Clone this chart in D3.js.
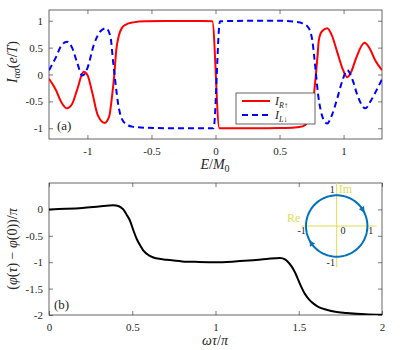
<!DOCTYPE html>
<html>
<head>
<meta charset="utf-8">
<script src="https://cdn.jsdelivr.net/npm/d3@7"></script>
<style>
  body { margin: 0; background: #fff; }
  svg { display: block; }
  text { font-family: "Liberation Serif", "Times New Roman", "DejaVu Serif", serif; fill: #262626; }
</style>
</head>
<body>
<script>
// panel (a): E/M0 and the two currents
const energy = [-1.3, -1.25, -1.2, -1.16, -1.12, -1.08, -1.03, -1.0, -0.96, -0.92, -0.865, -0.83, -0.81, -0.79, -0.775, -0.755, -0.73, -0.7, -0.64, -0.55, -0.4, -0.1, -0.025, 0.03, 0.3, 0.5, 0.62, 0.68, 0.72, 0.74, 0.76, 0.78, 0.795, 0.807, 0.83, 0.872, 0.91, 0.95, 0.99, 1.029, 1.06, 1.1, 1.164, 1.2, 1.25, 1.3]
const currentR = [-0.08, -0.27, -0.53, -0.63, -0.55, -0.28, 0.05, -0.01, -0.36, -0.75, -0.9, -0.78, -0.45, 0.0, 0.45, 0.72, 0.87, 0.93, 0.97, 0.99, 0.995, 0.995, 0.99, -1.0, -1.0, -0.995, -0.985, -0.965, -0.89, -0.79, -0.55, -0.1, 0.3, 0.64, 0.8, 0.86, 0.72, 0.42, 0.12, -0.05, 0.05, 0.32, 0.59, 0.5, 0.25, 0.08]
const energyL = [-1.3, -1.25, -1.2, -1.159, -1.12, -1.08, -1.04, -1.0, -0.95, -0.9, -0.854, -0.82, -0.8, -0.78, -0.76, -0.74, -0.7, -0.65, -0.55, -0.3, -0.015, 0.035, 0.3, 0.5, 0.62, 0.68, 0.716, 0.74, 0.755, 0.77, 0.785, 0.8, 0.82, 0.84, 0.872, 0.91, 0.95, 0.99, 1.029, 1.07, 1.11, 1.17, 1.21, 1.26, 1.3]
const currentL = [0.08, 0.3, 0.55, 0.61, 0.5, 0.22, -0.02, 0.12, 0.55, 0.8, 0.86, 0.7, 0.25, -0.18, -0.55, -0.77, -0.92, -0.97, -0.99, -1.0, -1.0, 0.99, 1.0, 1.0, 0.98, 0.95, 0.9, 0.8, 0.65, 0.35, 0.0, -0.35, -0.65, -0.82, -0.91, -0.75, -0.45, -0.12, 0.08, -0.1, -0.4, -0.63, -0.5, -0.28, -0.09]
const xTicksA = [-1, -0.5, 0, 0.5, 1]
const yTicksA = [-1, -0.5, 0, 0.5, 1]

// panel (b): phase vs omega tau / pi
const omegaTau = [0, 0.1, 0.2, 0.3, 0.386, 0.42, 0.446, 0.466, 0.486, 0.507, 0.527, 0.547, 0.567, 0.6, 0.627, 0.67, 0.707, 0.8, 0.9, 1.0, 1.1, 1.2, 1.307, 1.387, 1.42, 1.437, 1.457, 1.477, 1.507, 1.537, 1.56, 1.587, 1.62, 1.667, 1.72, 1.787, 1.9, 2.0]
const phase = [0, 0.01, 0.026, 0.055, 0.08, 0.06, 0.0, -0.1, -0.21, -0.4, -0.56, -0.68, -0.78, -0.87, -0.91, -0.94, -0.955, -0.985, -0.995, -1.0, -0.99, -0.97, -0.94, -0.92, -0.95, -1.0, -1.08, -1.19, -1.41, -1.6, -1.7, -1.78, -1.85, -1.9, -1.94, -1.96, -1.985, -1.995]
const xTicksB = [0, 0.5, 1, 1.5, 2]
const yTicksB = [-2, -1.5, -1, -0.5, 0]

const W = 415, H = 350
const axisColor = '#404040'
const serif = '"Liberation Serif", "Times New Roman", serif'

const svg = d3.select('body').append('svg').attr('width', W).attr('height', H)

function panel(box, x, y, xt, yt, id) {
    const g = svg.append('g')
    g.append('defs').append('clipPath').attr('id', id)
        .append('rect').attr('x', box.l).attr('y', box.t)
        .attr('width', box.r - box.l).attr('height', box.b - box.t)
    const fmt = d => String(d)
    const style = sel => {
        sel.attr('font-family', serif)
        sel.select('.domain').remove()
        sel.selectAll('line').attr('stroke', axisColor).attr('stroke-width', 0.7)
        sel.selectAll('text').attr('font-family', serif).attr('font-size', 11).attr('fill', '#262626')
    }
    g.append('g').attr('transform', `translate(0,${box.b})`)
        .call(d3.axisBottom(x).tickValues(xt).tickSize(-4).tickPadding(8).tickFormat(fmt)).call(style)
    g.append('g').attr('transform', `translate(0,${box.t})`)
        .call(d3.axisTop(x).tickValues(xt).tickSize(-4).tickFormat('')).call(style)
    g.append('g').attr('transform', `translate(${box.l},0)`)
        .call(d3.axisLeft(y).tickValues(yt).tickSize(-4).tickPadding(6).tickFormat(fmt)).call(style)
    g.append('g').attr('transform', `translate(${box.r},0)`)
        .call(d3.axisRight(y).tickValues(yt).tickSize(-4).tickFormat('')).call(style)
    g.append('rect').attr('x', box.l).attr('y', box.t)
        .attr('width', box.r - box.l).attr('height', box.b - box.t)
        .attr('fill', 'none').attr('stroke', axisColor).attr('stroke-width', 0.8)
    return g
}

// ---- panel (a)
const boxA = {l: 49, r: 382, t: 10, b: 139}
const xE = d3.scaleLinear().domain([-1.3, 1.3]).range([boxA.l, boxA.r])
const yI = d3.scaleLinear().domain([-1.2, 1.2]).range([boxA.b, boxA.t])
const gA = panel(boxA, xE, yI, xTicksA, yTicksA, 'clipA')

const lineR = d3.line().x((d, i) => xE(energy[i])).y(d => yI(d)).curve(d3.curveMonotoneX)
const lineL = d3.line().x((d, i) => xE(energyL[i])).y(d => yI(d)).curve(d3.curveMonotoneX)
gA.append('path').attr('d', lineR(currentR)).attr('clip-path', 'url(#clipA)')
    .attr('fill', 'none').attr('stroke', '#ff0000').attr('stroke-width', 2)
gA.append('path').attr('d', lineL(currentL)).attr('clip-path', 'url(#clipA)')
    .attr('fill', 'none').attr('stroke', '#0000ff').attr('stroke-width', 2).attr('stroke-dasharray', '6,4')

gA.append('text').attr('x', 57).attr('y', 130).attr('font-size', 13).text('(a)')

// legend
const leg = gA.append('g').attr('transform', 'translate(236,93)')
leg.append('rect').attr('width', 79).attr('height', 31).attr('fill', '#fff').attr('stroke', axisColor).attr('stroke-width', 0.8)
leg.append('line').attr('x1', 6).attr('x2', 34).attr('y1', 8).attr('y2', 8).attr('stroke', '#ff0000').attr('stroke-width', 2)
leg.append('line').attr('x1', 6).attr('x2', 34).attr('y1', 22).attr('y2', 22).attr('stroke', '#0000ff').attr('stroke-width', 2).attr('stroke-dasharray', '6,4')
const legLabels = [['R', '\u2191', 12], ['L', '\u2193', 26]]
legLabels.forEach(([a, b, yy]) => {
    const t = leg.append('text').attr('x', 39).attr('y', yy).attr('font-size', 12)
    t.append('tspan').attr('font-style', 'italic').text('I')
    t.append('tspan').attr('font-style', 'italic').attr('font-size', 8).attr('dy', 3).text(a)
    t.append('tspan').attr('font-size', 8).text(b)
})

// axis labels (a)
const xlA = svg.append('text').attr('x', 215).attr('y', 169).attr('text-anchor', 'middle').attr('font-size', 14)
xlA.append('tspan').attr('font-style', 'italic').text('E')
xlA.append('tspan').text('/')
xlA.append('tspan').attr('font-style', 'italic').text('M')
xlA.append('tspan').attr('font-size', 10).attr('dy', 3).text('0')

const ylA = svg.append('text').attr('transform', 'translate(17,62) rotate(-90)').attr('text-anchor', 'middle').attr('font-size', 14)
ylA.append('tspan').attr('font-style', 'italic').text('I')
ylA.append('tspan').attr('font-style', 'italic').attr('font-size', 10).attr('dy', 3).text('\u03b1\u03c3')
ylA.append('tspan').attr('dy', -3).text('(')
ylA.append('tspan').attr('font-style', 'italic').text('e')
ylA.append('tspan').text('/')
ylA.append('tspan').attr('font-style', 'italic').text('T')
ylA.append('tspan').text(')')

// ---- panel (b)
const boxB = {l: 49, r: 382, t: 183, b: 315}
const xW = d3.scaleLinear().domain([0, 2]).range([boxB.l, boxB.r])
const yP = d3.scaleLinear().domain([-2, 0.5]).range([boxB.b, boxB.t])
const gB = panel(boxB, xW, yP, xTicksB, yTicksB, 'clipB')

const lineP = d3.line().x((d, i) => xW(omegaTau[i])).y(d => yP(d)).curve(d3.curveMonotoneX)
gB.append('path').attr('d', lineP(phase)).attr('clip-path', 'url(#clipB)')
    .attr('fill', 'none').attr('stroke', '#000').attr('stroke-width', 2)

gB.append('text').attr('x', 54).attr('y', 309).attr('font-size', 13).text('(b)')

const xlB = svg.append('text').attr('x', 215).attr('y', 345).attr('text-anchor', 'middle').attr('font-size', 14)
xlB.append('tspan').attr('font-style', 'italic').text('\u03c9\u03c4')
xlB.append('tspan').text('/')
xlB.append('tspan').attr('font-style', 'italic').text('\u03c0')

const ylB = svg.append('text').attr('transform', 'translate(17,249) rotate(-90)').attr('text-anchor', 'middle').attr('font-size', 14)
ylB.append('tspan').text('(')
ylB.append('tspan').attr('font-style', 'italic').text('\u03c6')
ylB.append('tspan').text('(')
ylB.append('tspan').attr('font-style', 'italic').text('\u03c4')
ylB.append('tspan').text(') \u2212 ')
ylB.append('tspan').attr('font-style', 'italic').text('\u03c6')
ylB.append('tspan').text('(0))/')
ylB.append('tspan').attr('font-style', 'italic').text('\u03c0')

// ---- inset: unit circle in the complex plane
const cx = d3.scaleLinear().domain([-1, 1]).range([306, 367.4])
const cy = d3.scaleLinear().domain([-1, 1]).range([256.7, 195.3])
const inset = svg.append('g')
const yellow = '#e0dc50'
inset.append('line').attr('x1', cx(-1.15)).attr('x2', cx(1.3)).attr('y1', cy(0)).attr('y2', cy(0)).attr('stroke', yellow).attr('stroke-width', 1)
inset.append('line').attr('x1', cx(0)).attr('x2', cx(0)).attr('y1', cy(1.4)).attr('y2', cy(-1.34)).attr('stroke', yellow).attr('stroke-width', 1)
const angles = d3.range(0, 361, 3).map(a => a * Math.PI / 180)
inset.append('path')
    .attr('d', d3.line().x(a => cx(Math.cos(a))).y(a => cy(Math.sin(a)))(angles))
    .attr('fill', 'none').attr('stroke', '#0072bd').attr('stroke-width', 2)
// clockwise arrow heads
const arrowAt = [31, 213]
arrowAt.forEach(deg => {
    const a = deg * Math.PI / 180
    const px = cx(Math.cos(a)), py = cy(Math.sin(a))
    // clockwise tangent in screen coords
    const tx = Math.sin(a), ty = Math.cos(a)
    const nx = -ty, ny = tx
    const L = 6, Wd = 3
    const pts = [[px + tx * L / 2, py + ty * L / 2],
                 [px - tx * L / 2 + nx * Wd, py - ty * L / 2 + ny * Wd],
                 [px - tx * L / 2 - nx * Wd, py - ty * L / 2 - ny * Wd]]
    inset.append('path').attr('d', 'M' + pts.map(p => p.join(',')).join('L') + 'Z').attr('fill', '#0072bd')
})
const insetLabels = [['1', cx(-0.23), cy(1.08)], ['-1', cx(-1.28), cy(-0.25)], ['0', cx(0.12), cy(-0.25)], ['1', cx(1.03), cy(-0.25)], ['-1', cx(-0.33), cy(-1.3)]]
insetLabels.forEach(([s, x, y]) => {
    inset.append('text').attr('x', x).attr('y', y).attr('font-size', 10).text(s)
})
inset.append('text').attr('x', cx(0.07)).attr('y', cy(1.08)).attr('font-size', 12).style('fill', yellow).text('Im')
inset.append('text').attr('x', 287).attr('y', 222).attr('font-size', 12).style('fill', yellow).text('Re')
</script>
</body>
</html>
